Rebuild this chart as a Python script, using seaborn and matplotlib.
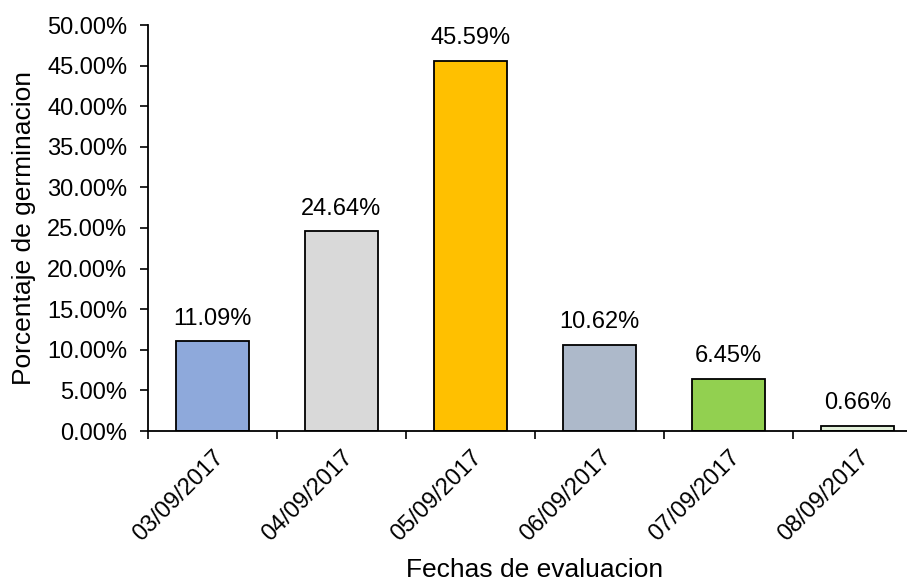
import matplotlib
matplotlib.use("Agg")
import matplotlib.pyplot as plt
import seaborn as sns
import pandas as pd
from matplotlib.ticker import PercentFormatter, FixedLocator

fechas = ["03/09/2017", "04/09/2017", "05/09/2017", "06/09/2017", "07/09/2017", "08/09/2017"]
germinacion = [11.09, 24.64, 45.59, 10.62, 6.45, 0.66]
colores = ["#8EA9DB", "#D9D9D9", "#FFC000", "#ADB9CA", "#92D050", "#E2F0D9"]

sns.set_theme(style="white")
plt.rcParams["font.family"] = ["Liberation Sans", "DejaVu Sans"]

df = pd.DataFrame({"fecha": fechas, "pct": germinacion})

fig = plt.figure(figsize=(9.07, 5.84), dpi=100)
# axes spans 148..922 px horizontally, 25..431 px vertically
ax = fig.add_axes([148 / 907, (584 - 431) / 584, 774 / 907, 406 / 584])

sns.barplot(data=df, x="fecha", y="pct", hue="fecha", palette=colores,
            legend=False, width=0.57, edgecolor="black", linewidth=1.3,
            saturation=1, ax=ax)

for i, v in enumerate(germinacion):
    ax.text(i, v + 1.4, f"{v:.2f}%", ha="center", va="bottom", fontsize=17, color="black")

ax.set_xlim(-0.5, 5.5)
ax.set_ylim(0, 50)
ax.set_yticks(range(0, 51, 5))
ax.yaxis.set_major_formatter(PercentFormatter(decimals=2))
ax.tick_params(axis="y", labelsize=17, direction="out", length=6, width=1.2, left=True, pad=9, colors="black")

ax.set_xticks(range(len(fechas)))
ax.set_xticklabels(fechas, rotation=45, ha="right", rotation_mode="anchor", fontsize=17, color="black")
ax.tick_params(axis="x", length=0, pad=11)
ax.xaxis.set_minor_locator(FixedLocator([i - 0.5 for i in range(len(fechas) + 1)]))
ax.tick_params(axis="x", which="minor", bottom=True, direction="out", length=6, width=1.2, color="black")

ax.set_xlabel("Fechas de evaluacion", fontsize=19, labelpad=9, color="black")
ax.set_ylabel("Porcentaje de germinacion", fontsize=19, labelpad=8, color="black")

for s in ["top", "right"]:
    ax.spines[s].set_visible(False)
for s in ["left", "bottom"]:
    ax.spines[s].set_color("black")
    ax.spines[s].set_linewidth(1.3)

fig.savefig("out.png", dpi=100)
